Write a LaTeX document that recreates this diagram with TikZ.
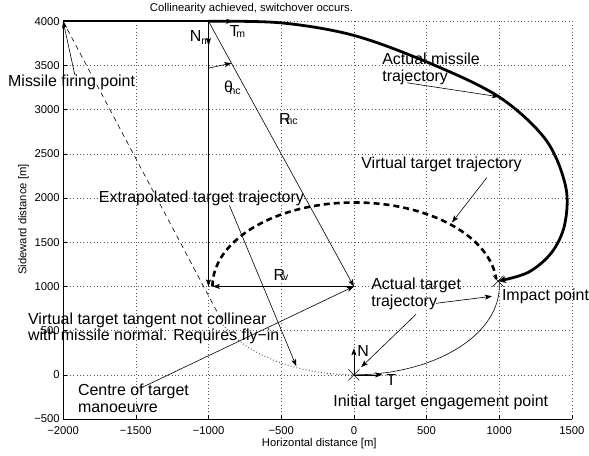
\documentclass[tikz,border=0pt]{standalone}
\usepackage{fontspec}
\setmainfont{Liberation Sans}
\usetikzlibrary{arrows.meta}
\newcommand\BigF{\fontsize{16}{17}\selectfont}
\newcommand\SmallF{\fontsize{11.3}{12}\selectfont}
\newcommand\SubF{\fontsize{10.5}{11}\selectfont}
\newcommand\Sb[2][3pt]{\raisebox{-#1}{\SubF #2}}
\tikzset{
  gridline/.style={black!65, line width=0.5pt, dash pattern=on 0.8pt off 2.6pt},
  arr/.style={line width=0.6pt, -{Stealth[length=7pt,width=5pt,inset=1.5pt]}},
  lbl/.style={font=\BigF, inner sep=0pt, anchor=base west},
  small/.style={font=\SmallF, inner sep=0pt},
  xmark/.style={line width=0.6pt}
}
\begin{document}
\begin{tikzpicture}[x=0.1457pt,y=0.0886pt]
% ---------- pixel frame: bounding box and background
\begin{scope}[shift={(-354.7pt,375.7pt)},x=1pt,y=-1pt]
  \fill[white] (0,0) rectangle (589,457);
  \useasboundingbox (0,0) rectangle (589,457);
\end{scope}
% ---------- grid
\foreach \gx in {-1500,-1000,...,1500} \draw[gridline] (\gx,-500) -- (\gx,4000);
\foreach \gy in {0,500,...,4000} \draw[gridline] (-2000,\gy) -- (1500,\gy);
% ---------- axes
\draw[line width=0.6pt] (-2000,4000) -- (-2000,-500) -- (1500,-500);
\foreach \v/\t in {-2000/−2000,-1500/−1500,-1000/−1000,-500/−500,0/0,500/500,1000/1000,1500/1500}{
  \draw[line width=0.6pt] (\v,-500) -- ++(0,4pt);
  \path (\v,-500) ++(0,-15.7pt) node[small, anchor=base] (xt\v) {\t};
}
\foreach \v/\t in {-500/−500,0/0,500/500,1000/1000,1500/1500,2000/2000,2500/2500,3000/3000,3500/3500,4000/4000}{
  \draw[line width=0.6pt] (-2000,\v) -- ++(4pt,0);
  \path (-2000,\v) ++(-3.3pt,0) node[small, anchor=east] (yt\v) {\t};
}
% ---------- key data points
\coordinate (F) at (-2000,4000);
\coordinate (S) at (-1000,4000);
\coordinate (C) at (0,1000);
\coordinate (O) at (0,0);
\coordinate (I) at (992,1060);
\coordinate (Vend) at (-970,1000);
\coordinate (Nbot) at (-1000,1000);
\coordinate (Nm) at (-1000,3730);
\coordinate (Tm) at (-830,4000);
\coordinate (Dend) at (-905,600);
\coordinate (Ntip) at (0,300);
\coordinate (Ttip) at (195,0);
\coordinate (Th1) at (-1000,3470);
\path (S) -- (C) coordinate[pos=0.158] (Th2);
% ---------- trajectories
\draw[line width=0.6pt, dash pattern=on 5pt off 4pt] (F) -- (Dend);
\draw[line width=0.9pt, black!70, dash pattern=on 0.9pt off 2.2pt]
  plot[domain=204:270, samples=40] ({1000*cos(\x)},{1000+1000*sin(\x)});
\draw[line width=0.6pt]
  plot[domain=270:363.5, samples=60] ({1000*cos(\x)},{1000+1000*sin(\x)});
\draw[line width=2.6pt, dash pattern=on 6pt off 4pt]
  plot[domain=180:5, samples=80] ({5+978*cos(\x)},{1000+950*sin(\x)});
\draw[line width=1.8pt] (F) -- (S);
\draw[line width=2.8pt, -{Stealth[length=8pt,width=7pt]}]
  plot[smooth, tension=0.55] coordinates {(-1000,4000) (-500,3982) (0,3840) (517,3529) (997,3146) (1320,2660) (1457,2130) (1450,1700) (1361,1385) (1200,1160) (992,1060)};
% ---------- geometry arrows
\draw[arr] (S) -- (Nbot);
\draw[arr] (S) -- (Nm);
\draw[arr] (S) -- (Tm);
\draw[arr] (S) -- (C);
\draw[arr] (C) -- (Vend);
\draw[arr] (Th1) -- (Th2);
\draw[arr] (O) -- (Ntip);
\draw[arr] (O) -- (Ttip);
\draw[xmark] ([shift={(-5.5pt,-5.5pt)}]O) -- ([shift={(5.5pt,5.5pt)}]O);
\draw[xmark] ([shift={(-5.5pt,5.5pt)}]O) -- ([shift={(5.5pt,-5.5pt)}]O);
\draw[xmark] ([shift={(-5.5pt,-5.5pt)}]I) -- ([shift={(5.5pt,5.5pt)}]I);
\draw[xmark] ([shift={(-5.5pt,5.5pt)}]I) -- ([shift={(5.5pt,-5.5pt)}]I);
% ---------- texts and annotation arrows (pixel frame)
\begin{scope}[shift={(-354.7pt,375.7pt)},x=1pt,y=-1pt]
  \node[small, anchor=base] (title) at (252,11.5) {Collinearity achieved, switchover occurs.};
  \node[small, anchor=base] (xlab) at (320,447.5) {Horizontal distance [m]};
  \node[small, anchor=base, rotate=90] (ylab) at (26.5,220) {Sideward distance [m]};

  \node[lbl] (t1) at (8,86.5) {Missile firing point};
  \node[lbl] (t2a) at (383,65) {Actual missile};
  \node[lbl] (t2b) at (383,82) {trajectory};
  \node[lbl] (t3) at (362,168.5) {Virtual target trajectory};
  \node[lbl] (t4) at (99,202.5) {Extrapolated target trajectory};
  \node[lbl] (t5a) at (28,325) {Virtual target tangent not collinear};
  \node[lbl] (t5b) at (28,341.7) {with missile normal. Requires fly−in};
  \node[lbl] (t6a) at (78,396.5) {Centre of target};
  \node[lbl] (t6b) at (78,413) {manoeuvre};
  \node[lbl] (t7a) at (372,290) {Actual target};
  \node[lbl] (t7b) at (372,307) {trajectory};
  \node[lbl] (t8) at (503,300.7) {Impact point};
  \node[lbl] (t9) at (334,407.3) {Initial target engagement point};

  \node[lbl] (lNm) at (190,42) {N\Sb{m}};
  \node[lbl] (lTm) at (230,36.7) {T\kern-3pt\Sb[0.6pt]{m}};
  \node[lbl] (lth) at (224.5,93) {θ\kern-3.4pt\Sb[2pt]{nc}};
  \node[lbl] (lRnc) at (279.5,125) {R\kern-4pt\Sb[0pt]{nc}};
  \node[lbl] (lRv) at (274,281) {R\kern-2pt\Sb[0pt]{v}};
  \node[lbl] (lN) at (358,357) {N};
  \node[lbl] (lT) at (387,386) {T};

  \coordinate (a1) at (75,75);
  \coordinate (a2s) at (408,83);   \coordinate (a2t) at (500,97);
  \coordinate (a3s) at (488,178);  \coordinate (a3t) at (453,223);
  \coordinate (a4s) at (230,206);  \coordinate (a4t) at (297,367);
  \coordinate (a5s) at (437,304);  \coordinate (a5t) at (493,297);
  \coordinate (a6s) at (417,315);  \coordinate (a6t) at (362,368);
  \coordinate (a7s) at (143,388);
  \draw[arr] (a1) -- (F);
  \draw[arr] (a2s) -- (a2t);
  \draw[arr] (a3s) -- (a3t);
  \draw[arr] (a4s) -- (a4t);
  \draw[arr] (a5s) -- (a5t);
  \draw[arr] (a6s) -- (a6t);
  \draw[arr] (a7s) -- (C);
\end{scope}
\end{tikzpicture}
\end{document}
